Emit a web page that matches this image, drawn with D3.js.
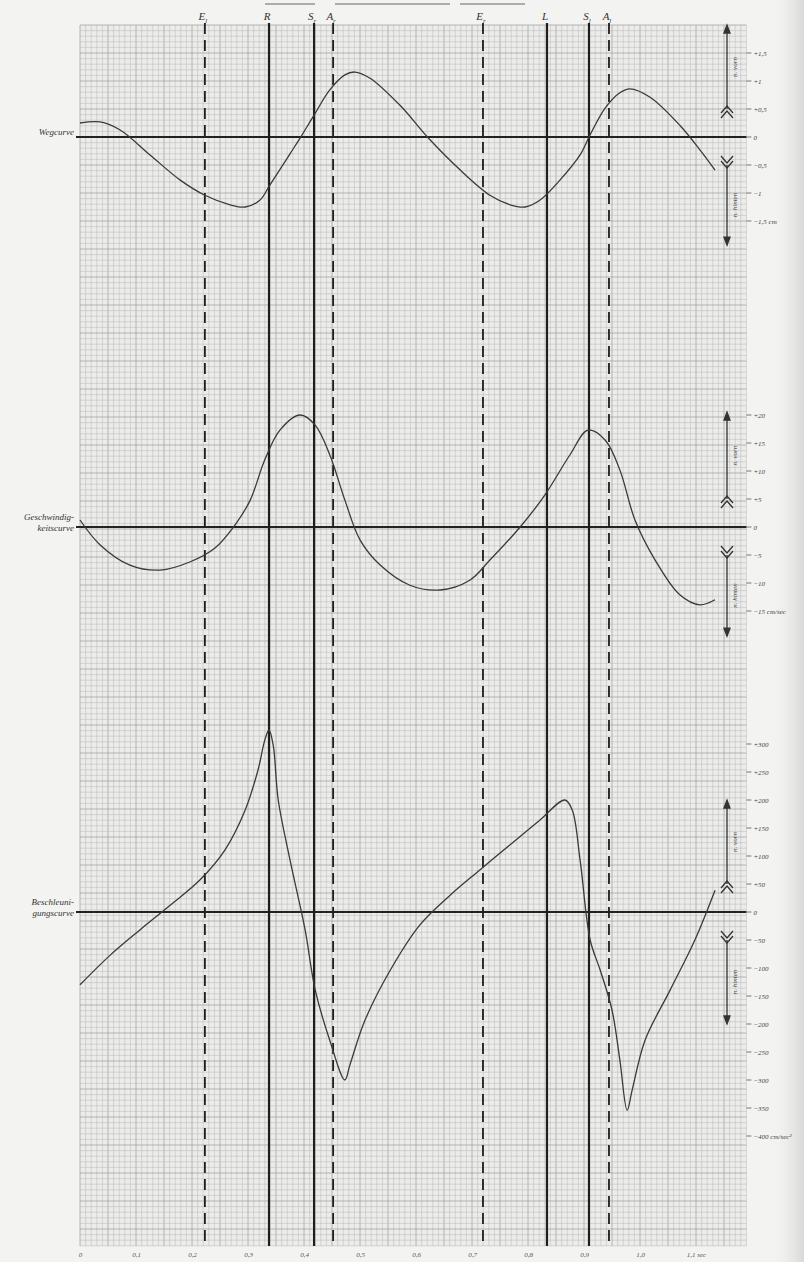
<!DOCTYPE html>
<html><head><meta charset="utf-8">
<script src="https://cdn.jsdelivr.net/npm/d3@7"></script>
<style>
html,body{margin:0;padding:0;background:#f3f3f1;}
svg{display:block;}
</style></head>
<body>
<svg id="c" width="804" height="1262"></svg>
<script>
// ---- data ----
const wegT = [0,0.036,0.071,0.125,0.179,0.223,0.268,0.295,0.321,0.339,0.375,0.393,0.418,0.446,0.473,0.491,0.518,0.571,0.625,0.679,0.732,0.768,0.795,0.821,0.857,0.893,0.911,0.938,0.964,0.982,1.018,1.071,1.107,1.134];
const wegV = [0.25,0.27,0.13,-0.32,-0.77,-1.04,-1.21,-1.25,-1.13,-0.86,-0.30,-0.02,0.39,0.84,1.11,1.16,1.05,0.57,-0.05,-0.59,-1.04,-1.21,-1.25,-1.13,-0.77,-0.32,0.04,0.52,0.79,0.86,0.71,0.21,-0.23,-0.59];
const geschT = [0,0.036,0.089,0.143,0.196,0.241,0.277,0.304,0.330,0.357,0.393,0.420,0.446,0.473,0.5,0.536,0.589,0.643,0.696,0.732,0.786,0.830,0.875,0.907,0.938,0.964,0.991,1.027,1.071,1.107,1.134];
const geschV = [1.25,-3.2,-6.8,-7.7,-6.25,-3.75,0.4,4.8,12,17.3,20,18.2,12.9,4.8,-2.3,-6.8,-10.4,-11.25,-9.5,-5.9,0,5.7,12.9,17.3,15.5,10.2,1.25,-5.9,-12.1,-13.9,-13];
const beschT = [0,0.054,0.107,0.161,0.214,0.259,0.295,0.318,0.330,0.3375,0.345,0.354,0.375,0.402,0.420,0.446,0.473,0.482,0.509,0.554,0.607,0.661,0.714,0.768,0.821,0.866,0.879,0.893,0.911,0.929,0.95,0.964,0.977,0.986,1.009,1.054,1.098,1.134];
const beschV = [-130,-77,-32,12,57,111,182,254,307,325,298,200,93,-32,-139,-229,-300,-273,-193,-104,-23,30,75,120,164,200,182,93,-50,-104,-175,-264,-354,-318,-229,-139,-50,39];
const eventLabels = [["E","l"],["R",""],["S","r"],["A","r"],["E","r"],["L",""],["S","l"],["A","l"]];
const eventTimes = [0.223,0.3375,0.418,0.452,0.7196,0.8339,0.9089,0.9446];
const timeTicks = [0,0.1,0.2,0.3,0.4,0.5,0.6,0.7,0.8,0.9,1.0,1.1];
const timeTickLabels = ["0","0,1","0,2","0,3","0,4","0,5","0,6","0,7","0,8","0,9","1,0","1,1 sec"];
const wegTicks = [1.5,1,0.5,0,-0.5,-1,-1.5];
const wegTickLabels = ["+1,5","+1","+0,5","0","−0,5","−1","−1,5 cm"];
const geschTicks = [20,15,10,5,0,-5,-10,-15];
const geschTickLabels = ["+20","+15","+10","+5","0","−5","−10","−15 cm/sec"];
const beschTicks = [300,250,200,150,100,50,0,-50,-100,-150,-200,-250,-300,-350,-400];
const beschTickLabels = ["+300","+250","+200","+150","+100","+50","0","−50","−100","−150","−200","−250","−300","−350","−400 cm/sec²"];
const curveNames = [["Wegcurve"],["Geschwindig-","keitscurve"],["Beschleuni-","gungscurve"]];

// ---- scales ----
const x = d3.scaleLinear().domain([0,1.1]).range([80,696]);
const yWeg = d3.scaleLinear().domain([0,1]).range([137,81]);
const yGesch = d3.scaleLinear().domain([0,5]).range([527,499]);
const yBesch = d3.scaleLinear().domain([0,50]).range([912,884]);
const gridTop = 25, gridBottom = 1246, gridRight = x(1.19);

const svg = d3.select("#c");
const serif = "'Liberation Serif','DejaVu Serif',serif";

// scan shadow on right
const defs = svg.append("defs");
const lg = defs.append("linearGradient").attr("id","sh").attr("x1","0").attr("x2","1");
lg.append("stop").attr("offset","0").attr("stop-color","#f3f3f1").attr("stop-opacity",0);
lg.append("stop").attr("offset","1").attr("stop-color","#d8d8d6").attr("stop-opacity",1);
svg.append("rect").attr("x",770).attr("y",0).attr("width",34).attr("height",1262).attr("fill","url(#sh)");

// ---- grid ----
const g = svg.append("g");
g.append("rect").attr("x",x(0)).attr("y",gridTop).attr("width",gridRight-x(0)).attr("height",gridBottom-gridTop).attr("fill","#ececea");
const vt = d3.range(0,120).map(i=>i/100);
g.selectAll(".vg").data(vt).join("line")
  .attr("x1",d=>x(d)).attr("x2",d=>x(d)).attr("y1",gridTop).attr("y2",gridBottom)
  .attr("stroke",(d,i)=>i%5===0?"#a0a0a0":"#b9b9b9").attr("stroke-width",(d,i)=>i%5===0?0.75:0.5);
const ht = d3.range(-198,21).map(i=>i/10);
g.selectAll(".hg").data(ht).join("line")
  .attr("x1",x(0)).attr("x2",gridRight).attr("y1",d=>yWeg(d)).attr("y2",d=>yWeg(d))
  .attr("stroke",d=>Math.round(d*10)%5===0?"#a0a0a0":"#b9b9b9").attr("stroke-width",d=>Math.round(d*10)%5===0?0.75:0.5);

// ---- zero lines ----
[yWeg(0),yGesch(0),yBesch(0)].forEach(y=>{
  svg.append("line").attr("x1",x(0)-4).attr("x2",gridRight).attr("y1",y).attr("y2",y)
    .attr("stroke","#222").attr("stroke-width",1.8);
});

// ---- event lines ----
eventTimes.forEach((t,i)=>{
  const lab = eventLabels[i];
  const dashed = lab[0]==="E"||lab[0]==="A";
  svg.append("line").attr("x1",x(t)).attr("x2",x(t)).attr("y1",gridTop-2).attr("y2",gridBottom)
    .attr("stroke","#1e1e1e").attr("stroke-width",dashed?1.8:2.2)
    .attr("stroke-dasharray",dashed?"11,6":null);
  const tx = svg.append("text").attr("x",x(t)-2).attr("y",20).attr("text-anchor","middle")
    .attr("font-family",serif).attr("font-style","italic").attr("font-size",11).attr("fill","#333");
  tx.append("tspan").text(lab[0]);
  if(lab[1]) tx.append("tspan").attr("dy",3).attr("font-size",7).text(lab[1]);
});

// ---- curves ----
const line = (ys)=>d3.line().x(d=>x(d[0])).y(d=>ys(d[1])).curve(d3.curveCatmullRom.alpha(0.5));
function draw(T,V,ys){
  svg.append("path").datum(T.map((t,i)=>[t,V[i]])).attr("d",line(ys))
    .attr("fill","none").attr("stroke","#3a3a3a").attr("stroke-width",1.3);
}
draw(wegT,wegV,yWeg);
draw(geschT,geschV,yGesch);
draw(beschT,beschV,yBesch);

// ---- right axes ----
function rightAxis(ys,ticks,labels){
  ticks.forEach((v,i)=>{
    const y = ys(v);
    svg.append("line").attr("x1",gridRight).attr("x2",gridRight+5).attr("y1",y).attr("y2",y).attr("stroke","#555").attr("stroke-width",0.8);
    svg.append("text").attr("x",gridRight+7).attr("y",y+2.5).attr("font-family",serif).attr("font-style","italic")
      .attr("font-size",7).attr("fill","#444").text(labels[i]);
  });
}
rightAxis(yWeg,wegTicks,wegTickLabels);
rightAxis(yGesch,geschTicks,geschTickLabels);
rightAxis(yBesch,beschTicks,beschTickLabels);

// ---- direction arrows ----
const ax = 727;
function arrowPair(yUpEnd,yUpStart,yDnStart,yDnEnd){
  const a = svg.append("g").attr("stroke","#333").attr("fill","none").attr("stroke-width",1.3);
  a.append("line").attr("x1",ax).attr("x2",ax).attr("y1",yUpStart).attr("y2",yUpEnd+4);
  a.append("path").attr("d",`M${ax-3},${yUpEnd+8}L${ax},${yUpEnd}L${ax+3},${yUpEnd+8}Z`).attr("fill","#333");
  [0,5].forEach(o=>a.append("path").attr("d",`M${ax-6},${yUpStart+4+o}L${ax},${yUpStart-3+o}L${ax+6},${yUpStart+4+o}`));
  a.append("line").attr("x1",ax).attr("x2",ax).attr("y1",yDnStart).attr("y2",yDnEnd-4);
  a.append("path").attr("d",`M${ax-3},${yDnEnd-8}L${ax},${yDnEnd}L${ax+3},${yDnEnd-8}Z`).attr("fill","#333");
  [0,5].forEach(o=>a.append("path").attr("d",`M${ax-6},${yDnStart-4-o}L${ax},${yDnStart+3-o}L${ax+6},${yDnStart-4-o}`));
  const t1=(yUpEnd+yUpStart)/2, t2=(yDnStart+yDnEnd)/2;
  svg.append("text").attr("transform",`translate(${ax+10},${t1}) rotate(-90)`).attr("text-anchor","middle")
    .attr("font-family",serif).attr("font-style","italic").attr("font-size",7).attr("fill","#444").text("n. vorn");
  svg.append("text").attr("transform",`translate(${ax+10},${t2}) rotate(-90)`).attr("text-anchor","middle")
    .attr("font-family",serif).attr("font-style","italic").attr("font-size",7).attr("fill","#444").text("n. hinten");
}
arrowPair(gridTop, yWeg(0.5), yWeg(-0.5), yWeg(-1.93));
arrowPair(yGesch(20.5), yGesch(5), yGesch(-5), yGesch(-19.5));
arrowPair(yBesch(200), yBesch(50), yBesch(-50), yBesch(-200));

// ---- bottom axis ----
const bx = d3.axisBottom(x).tickValues(timeTicks).tickFormat((d,i)=>timeTickLabels[i]).tickSize(0).tickPadding(6);
const bg = svg.append("g").attr("transform",`translate(0,${gridBottom})`).call(bx);
bg.select(".domain").remove();
bg.selectAll("text").attr("font-family",serif).attr("font-style","italic").attr("font-size",7).attr("fill","#555");

// ---- curve names ----
[yWeg(0),yGesch(0),yBesch(0)].forEach((y,i)=>{
  const n = curveNames[i];
  const t = svg.append("text").attr("x",74).attr("y",n.length===1?y-2:y-7).attr("text-anchor","end")
    .attr("font-family",serif).attr("font-style","italic").attr("font-size",9).attr("fill","#333");
  n.forEach((s,k)=>t.append("tspan").attr("x",74).attr("dy",k?11:0).text(s));
});

// ---- faint cut-off caption remnants at top ----
[[265,315],[335,450],[460,525]].forEach(p=>{
  svg.append("line").attr("x1",p[0]).attr("x2",p[1]).attr("y1",4).attr("y2",4).attr("stroke","#666").attr("stroke-width",1);
});
</script>
</body></html>
